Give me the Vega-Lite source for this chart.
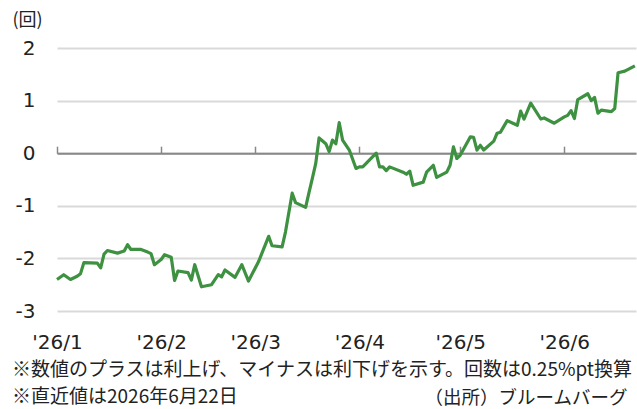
{
  "$schema": "https://vega.github.io/schema/vega-lite/v6.json",
  "width": 579,
  "height": 263,
  "autosize": {"type": "none"},
  "padding": {"left": 57, "top": 48, "right": 1, "bottom": 98},
  "background": "white",
  "config": {"view": {"stroke": null}, "font": "Noto Sans CJK JP"},
  "title": {
    "text": ["※数値のプラスは利上げ、マイナスは利下げを示す。回数は0.25%pt換算", "※直近値は2026年6月22日"],
    "orient": "bottom",
    "anchor": "start",
    "frame": "bounds",
    "baseline": "top",
    "offset": -46,
    "lineHeight": 27,
    "fontSize": 19,
    "font": "Noto Sans CJK JP",
    "fontWeight": "normal",
    "color": "#222"
  },
  "data": {"values": [
    {"date": "2026-01-01", "value": -2.40},
    {"date": "2026-01-03", "value": -2.31},
    {"date": "2026-01-05", "value": -2.40},
    {"date": "2026-01-07", "value": -2.34},
    {"date": "2026-01-08", "value": -2.29},
    {"date": "2026-01-09", "value": -2.08},
    {"date": "2026-01-13", "value": -2.09},
    {"date": "2026-01-14", "value": -2.18},
    {"date": "2026-01-15", "value": -1.92},
    {"date": "2026-01-16", "value": -1.85},
    {"date": "2026-01-19", "value": -1.90},
    {"date": "2026-01-21", "value": -1.86},
    {"date": "2026-01-22", "value": -1.74},
    {"date": "2026-01-23", "value": -1.83},
    {"date": "2026-01-26", "value": -1.83},
    {"date": "2026-01-28", "value": -1.88},
    {"date": "2026-01-29", "value": -1.91},
    {"date": "2026-01-30", "value": -2.12},
    {"date": "2026-02-01", "value": -2.02},
    {"date": "2026-02-02", "value": -1.93},
    {"date": "2026-02-04", "value": -1.98},
    {"date": "2026-02-05", "value": -2.42},
    {"date": "2026-02-06", "value": -2.24},
    {"date": "2026-02-09", "value": -2.27},
    {"date": "2026-02-10", "value": -2.41},
    {"date": "2026-02-11", "value": -2.12},
    {"date": "2026-02-13", "value": -2.54},
    {"date": "2026-02-16", "value": -2.50},
    {"date": "2026-02-18", "value": -2.31},
    {"date": "2026-02-19", "value": -2.35},
    {"date": "2026-02-20", "value": -2.22},
    {"date": "2026-02-23", "value": -2.36},
    {"date": "2026-02-25", "value": -2.12},
    {"date": "2026-02-27", "value": -2.43},
    {"date": "2026-03-02", "value": -2.06},
    {"date": "2026-03-05", "value": -1.58},
    {"date": "2026-03-06", "value": -1.76},
    {"date": "2026-03-09", "value": -1.78},
    {"date": "2026-03-10", "value": -1.50},
    {"date": "2026-03-12", "value": -0.76},
    {"date": "2026-03-13", "value": -0.94},
    {"date": "2026-03-16", "value": -1.03},
    {"date": "2026-03-17", "value": -0.75},
    {"date": "2026-03-18", "value": -0.48},
    {"date": "2026-03-19", "value": -0.20},
    {"date": "2026-03-20", "value": 0.29},
    {"date": "2026-03-22", "value": 0.18},
    {"date": "2026-03-23", "value": 0.03},
    {"date": "2026-03-24", "value": 0.25},
    {"date": "2026-03-25", "value": 0.18},
    {"date": "2026-03-26", "value": 0.58},
    {"date": "2026-03-27", "value": 0.25},
    {"date": "2026-03-29", "value": 0.06},
    {"date": "2026-03-31", "value": -0.29},
    {"date": "2026-04-01", "value": -0.26},
    {"date": "2026-04-02", "value": -0.26},
    {"date": "2026-04-06", "value": 0.00},
    {"date": "2026-04-07", "value": -0.26},
    {"date": "2026-04-08", "value": -0.26},
    {"date": "2026-04-09", "value": -0.33},
    {"date": "2026-04-10", "value": -0.26},
    {"date": "2026-04-14", "value": -0.36},
    {"date": "2026-04-15", "value": -0.40},
    {"date": "2026-04-16", "value": -0.34},
    {"date": "2026-04-17", "value": -0.61},
    {"date": "2026-04-20", "value": -0.55},
    {"date": "2026-04-21", "value": -0.36},
    {"date": "2026-04-23", "value": -0.23},
    {"date": "2026-04-24", "value": -0.46},
    {"date": "2026-04-27", "value": -0.36},
    {"date": "2026-04-28", "value": -0.23},
    {"date": "2026-04-29", "value": 0.12},
    {"date": "2026-04-30", "value": -0.10},
    {"date": "2026-05-01", "value": -0.04},
    {"date": "2026-05-04", "value": 0.31},
    {"date": "2026-05-05", "value": 0.30},
    {"date": "2026-05-06", "value": 0.06},
    {"date": "2026-05-07", "value": 0.15},
    {"date": "2026-05-08", "value": 0.06},
    {"date": "2026-05-11", "value": 0.23},
    {"date": "2026-05-12", "value": 0.38},
    {"date": "2026-05-13", "value": 0.40},
    {"date": "2026-05-15", "value": 0.62},
    {"date": "2026-05-18", "value": 0.53},
    {"date": "2026-05-19", "value": 0.80},
    {"date": "2026-05-20", "value": 0.65},
    {"date": "2026-05-22", "value": 0.95},
    {"date": "2026-05-25", "value": 0.65},
    {"date": "2026-05-26", "value": 0.67},
    {"date": "2026-05-29", "value": 0.57},
    {"date": "2026-06-01", "value": 0.69},
    {"date": "2026-06-02", "value": 0.72},
    {"date": "2026-06-03", "value": 0.81},
    {"date": "2026-06-04", "value": 0.66},
    {"date": "2026-06-05", "value": 1.02},
    {"date": "2026-06-08", "value": 1.13},
    {"date": "2026-06-09", "value": 1.00},
    {"date": "2026-06-10", "value": 1.06},
    {"date": "2026-06-11", "value": 0.76},
    {"date": "2026-06-12", "value": 0.82},
    {"date": "2026-06-15", "value": 0.79},
    {"date": "2026-06-16", "value": 0.85},
    {"date": "2026-06-17", "value": 1.53},
    {"date": "2026-06-19", "value": 1.56},
    {"date": "2026-06-22", "value": 1.66}
  ]},
  "mark": {"type": "line", "color": "#3d9140", "strokeWidth": 3.2, "strokeJoin": "round"},
  "encoding": {
    "x": {
      "field": "date",
      "type": "temporal",
      "scale": {
        "type": "utc",
        "domain": [
          {"year": 2026, "month": 1, "date": 1, "utc": true},
          {"year": 2026, "month": 6, "date": 22, "hours": 8, "utc": true}
        ]
      },
      "axis": {
        "orient": "bottom",
        "offset": -157.8,
        "grid": false,
        "domainColor": "#888888",
        "domainWidth": 2,
        "tickColor": "#888888",
        "tickWidth": 1.5,
        "tickSize": -7,
        "labelPadding": 186,
        "labelFontSize": 20,
        "labelFont": "DejaVu Sans",
        "labelColor": "#222222",
        "labelFlush": false,
        "labelOverlap": false,
        "format": "'%y/%-m",
        "tickCount": {"interval": "month", "step": 1},
        "title": "（出所）ブルームバーグ",
        "titleX": 570,
        "titleY": 244,
        "titleAlign": "right",
        "titleBaseline": "middle",
        "titleFontSize": 18.5,
        "titleFontWeight": "normal",
        "titleFont": "Noto Sans CJK JP",
        "titleColor": "#222222"
      }
    },
    "y": {
      "field": "value",
      "type": "quantitative",
      "scale": {"domain": [-3, 2], "nice": false, "zero": false},
      "axis": {
        "values": [-3, -2, -1, 0, 1, 2],
        "labelExpr": "datum.value < 0 ? '-' + abs(datum.value) : '' + datum.value",
        "grid": true,
        "gridColor": "#d9d9d9",
        "gridWidth": 2,
        "domain": false,
        "ticks": false,
        "labelPadding": 22,
        "labelFontSize": 20,
        "labelFont": "DejaVu Sans",
        "labelColor": "#222222",
        "title": "(回)",
        "titleAngle": 0,
        "titleX": -45,
        "titleY": -28,
        "titleAlign": "left",
        "titleBaseline": "middle",
        "titleFontSize": 18,
        "titleFontWeight": "normal",
        "titleFont": "Noto Sans CJK JP",
        "titleColor": "#222222"
      }
    }
  }
}
